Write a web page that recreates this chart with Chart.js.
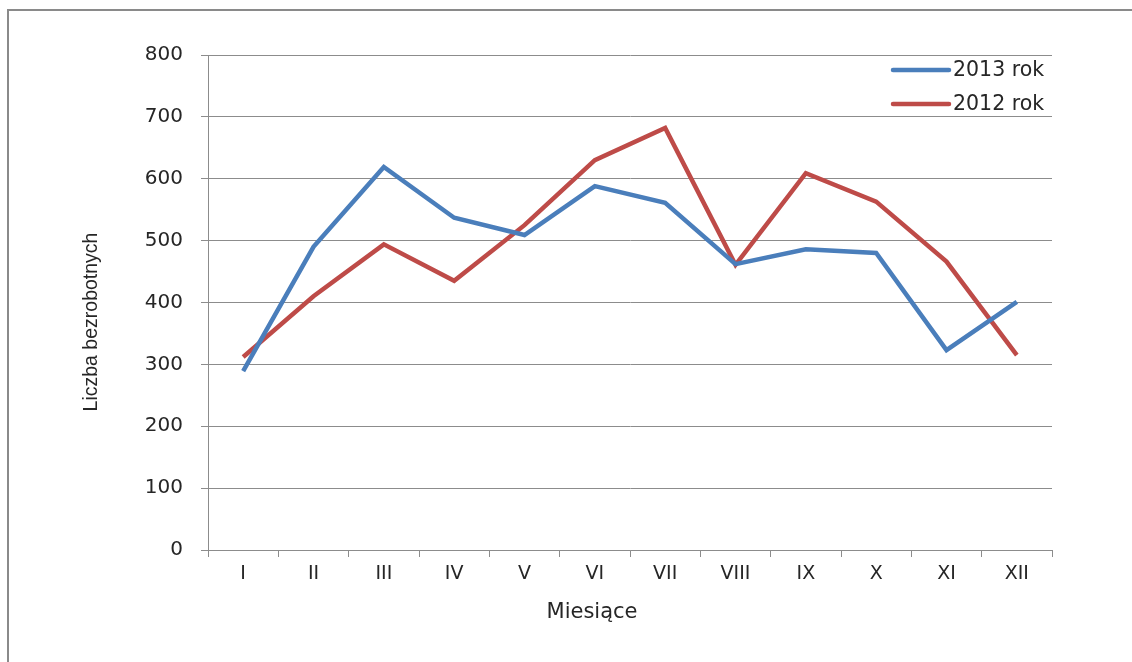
<!DOCTYPE html>
<html>
<head>
<meta charset="utf-8">
<script src="https://cdn.jsdelivr.net/npm/chart.js@4.4.1/dist/chart.umd.min.js"></script>
<style>
  html, body { margin: 0; padding: 0; background: #fff; }
  #wrap { position: relative; width: 1132px; height: 662px; overflow: hidden; }
  #frame { position: absolute; left: 7px; top: 9px; right: -5px; bottom: -5px;
           border-top: 2px solid #8a8a8a; border-left: 2px solid #8a8a8a; }
  canvas { position: absolute; left: 0; top: 0; }
</style>
</head>
<body>
<div id="wrap">
  <div id="frame"></div>
  <canvas id="c" width="1132" height="662"></canvas>
</div>
<script>
const months = ['I','II','III','IV','V','VI','VII','VIII','IX','X','XI','XII'];
const series2013 = [289, 490, 619, 537, 509, 588, 561, 462, 486, 480, 323, 401];
const series2012 = [312, 410, 494, 435, 525, 630, 682, 461, 609, 563, 466, 315];
const yTicks = [0, 100, 200, 300, 400, 500, 600, 700, 800];
const label2013 = '2013 rok';
const label2012 = '2012 rok';
const xTitle = 'Miesiące';
const yTitle = 'Liczba bezrobotnych';

const BLUE = '#4a7ebb';
const RED = '#be4b48';
const GRID = '#8c8c8c';
const TEXT = '#262626';

const annotPlugin = {
  id: 'customLegendTitles',
  afterDraw(chart) {
    const ctx = chart.ctx;
    const items = chart.data.datasets;
    const x0 = 893, x1 = 949, tx = 953;
    const ys = [70, 104];
    ctx.save();
    ctx.font = '20.5px "DejaVu Sans"';
    ctx.textBaseline = 'middle';
    ctx.textAlign = 'left';
    items.forEach((ds, i) => {
      ctx.strokeStyle = ds.borderColor;
      ctx.lineWidth = 4.5;
      ctx.lineCap = 'round';
      ctx.beginPath();
      ctx.moveTo(x0, ys[i]);
      ctx.lineTo(x1, ys[i]);
      ctx.stroke();
      ctx.fillStyle = TEXT;
      ctx.fillText(ds.label, tx, ys[i] + 1);
    });
    // axis titles
    ctx.fillStyle = TEXT;
    ctx.textAlign = 'center';
    ctx.font = '21px "DejaVu Sans"';
    ctx.fillText(xTitle, 592, 613);
    ctx.translate(92, 322);
    ctx.rotate(-Math.PI / 2);
    ctx.font = '19.5px "Liberation Sans"';
    ctx.fillText(yTitle, 0, 0);
    ctx.restore();
  }
};

new Chart(document.getElementById('c'), {
  type: 'line',
  data: {
    labels: months,
    datasets: [
      { label: label2013, data: series2013, borderColor: BLUE, backgroundColor: BLUE,
        borderWidth: 4.5, pointRadius: 0, tension: 0, fill: false },
      { label: label2012, data: series2012, borderColor: RED, backgroundColor: RED,
        borderWidth: 4.5, pointRadius: 0, tension: 0, fill: false }
    ]
  },
  options: {
    responsive: false,
    animation: false,
    devicePixelRatio: 1,
    layout: { padding: { left: 74, right: 80, top: 55, bottom: 0 } },
    plugins: { legend: { display: false }, tooltip: { enabled: false } },
    scales: {
      x: {
        offset: true,
        grid: { display: true, offset: true, drawOnChartArea: false, tickLength: 7, color: GRID, lineWidth: 1 },
        border: { display: true, color: GRID, width: 1 },
        ticks: { color: TEXT, font: { family: 'DejaVu Sans', size: 19 }, padding: 6, maxRotation: 0 },
        title: { display: false },
        afterFit(scale) { scale.height = 112; }
      },
      y: {
        min: 0, max: 800,
        afterBuildTicks(scale) { scale.ticks = yTicks.map(v => ({ value: v })); },
        grid: { color: GRID, lineWidth: 1, tickLength: 7 },
        border: { display: true, color: GRID, width: 1 },
        ticks: { color: TEXT, font: { family: 'DejaVu Sans', size: 20 }, padding: 18 },
        title: { display: false },
        afterFit(scale) { scale.width = 134; }
      }
    }
  },
  plugins: [annotPlugin]
});
</script>
</body>
</html>
